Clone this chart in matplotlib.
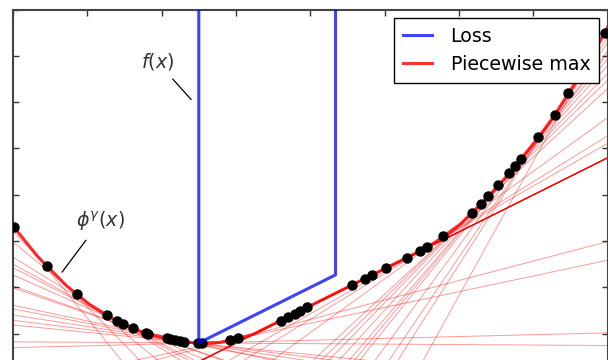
import numpy as np
import matplotlib
matplotlib.use("Agg")
import matplotlib.pyplot as plt

# points where the envelope is sampled (x, value, slope of the supporting line)
pts_x = [-3.987, -3.542, -3.138, -2.734, -2.599, -2.519, -2.384, -2.209, -2.182,
         -1.926, -1.886, -1.818, -1.751, -1.697, -1.508, -1.455, -1.077, -0.970,
         -0.391, -0.296, -0.202, -0.135, -0.040, 0.566, 0.741, 0.835, 1.024,
         1.306, 1.481, 1.576, 1.791, 2.182, 2.303, 2.397, 2.532, 2.680, 2.761,
         2.842, 3.071, 3.300, 3.475, 3.960]
pts_y = [3.30, 2.46, 1.85, 1.40, 1.27, 1.21, 1.12, 1.01, 0.99,
         0.91, 0.88, 0.86, 0.84, 0.82, 0.80, 0.80, 0.86, 0.90,
         1.28, 1.36, 1.43, 1.49, 1.57, 2.05, 2.19, 2.26, 2.42,
         2.64, 2.79, 2.87, 3.10, 3.60, 3.81, 3.97, 4.20, 4.46, 4.63,
         4.78, 5.24, 5.73, 6.19, 7.50]
pts_slope = [-1.99, -1.63, -1.31, -0.99, -0.88, -0.82, -0.71, -0.57, -0.55,
             -0.34, -0.31, -0.25, -0.20, -0.16, -0.01, 0.04, 0.34, 0.42,
             0.80, 0.80, 0.80, 0.80, 0.80, 0.80, 0.80, 0.80, 0.80,
             0.80, 0.92, 0.99, 1.16, 1.48, 1.57, 1.65, 1.76, 1.87, 1.94,
             2.00, 2.19, 2.37, 2.51, 2.90]

# loss: infinite outside [a, b], linear inside
loss_x = [-1.5, -1.5, 0.34, 0.34]
loss_y = [10.0, 0.80, 2.27, 10.0]

fig = plt.figure(figsize=(6.08, 3.6), dpi=100)
# axes run past the bottom edge of the picture
ax = fig.add_axes([13 / 608, -20 / 360, 594.5 / 608, 370.5 / 360])

for x0, y0, s in zip(pts_x, pts_y, pts_slope):
    ax.axline((x0, y0), slope=s, color="red", alpha=0.4, lw=0.7, zorder=1)

# piecewise max of the supporting lines
xs = np.linspace(-4, 4, 1000)
lines = np.array([y0 + s * (xs - x0) for x0, y0, s in zip(pts_x, pts_y, pts_slope)])
ax.plot(xs, lines.max(axis=0), color="red", alpha=0.8, lw=2.2, zorder=2,
        label="Piecewise max")

ax.plot(pts_x, pts_y, "o", color="black", ms=6.5, zorder=3)
ax.plot(loss_x, loss_y, color="blue", alpha=0.75, lw=2.2, zorder=4, label="Loss")

ax.annotate("$f(x)$", xy=(-1.603, 6.056), xytext=(-2.061, 6.875),
            fontsize=13.7, color="#333333", ha="center", va="center",
            arrowprops=dict(arrowstyle="-", color="black", lw=0.9, shrinkA=4, shrinkB=0))
ax.annotate(r"$\phi^\gamma(x)$", xy=(-3.34, 2.328), xytext=(-2.828, 3.427),
            fontsize=13.7, color="#333333", ha="center", va="center",
            arrowprops=dict(arrowstyle="-", color="black", lw=0.9, shrinkA=4, shrinkB=0))

ax.set_xlim(-4, 4)
ax.set_ylim(0, 8)
ax.set_xticks(np.arange(-4, 5, 1))
ax.set_yticks(np.arange(0, 9, 1))
ax.tick_params(direction="in", length=4, width=1, colors="#333333",
               top=True, right=True, labelbottom=False, labelleft=False)
for sp in ax.spines.values():
    sp.set_color("#444444")
    sp.set_linewidth(1.5)

handles, labels = ax.get_legend_handles_labels()
leg = ax.legend(handles[::-1], labels[::-1], loc="upper right", fontsize=13.7,
                fancybox=False, framealpha=1, edgecolor="black",
                handlelength=1.5, handletextpad=1.0, borderpad=0.45,
                labelspacing=0.5, borderaxespad=0.45)
leg.get_frame().set_linewidth(1.0)

fig.savefig("out.png", dpi=100)
